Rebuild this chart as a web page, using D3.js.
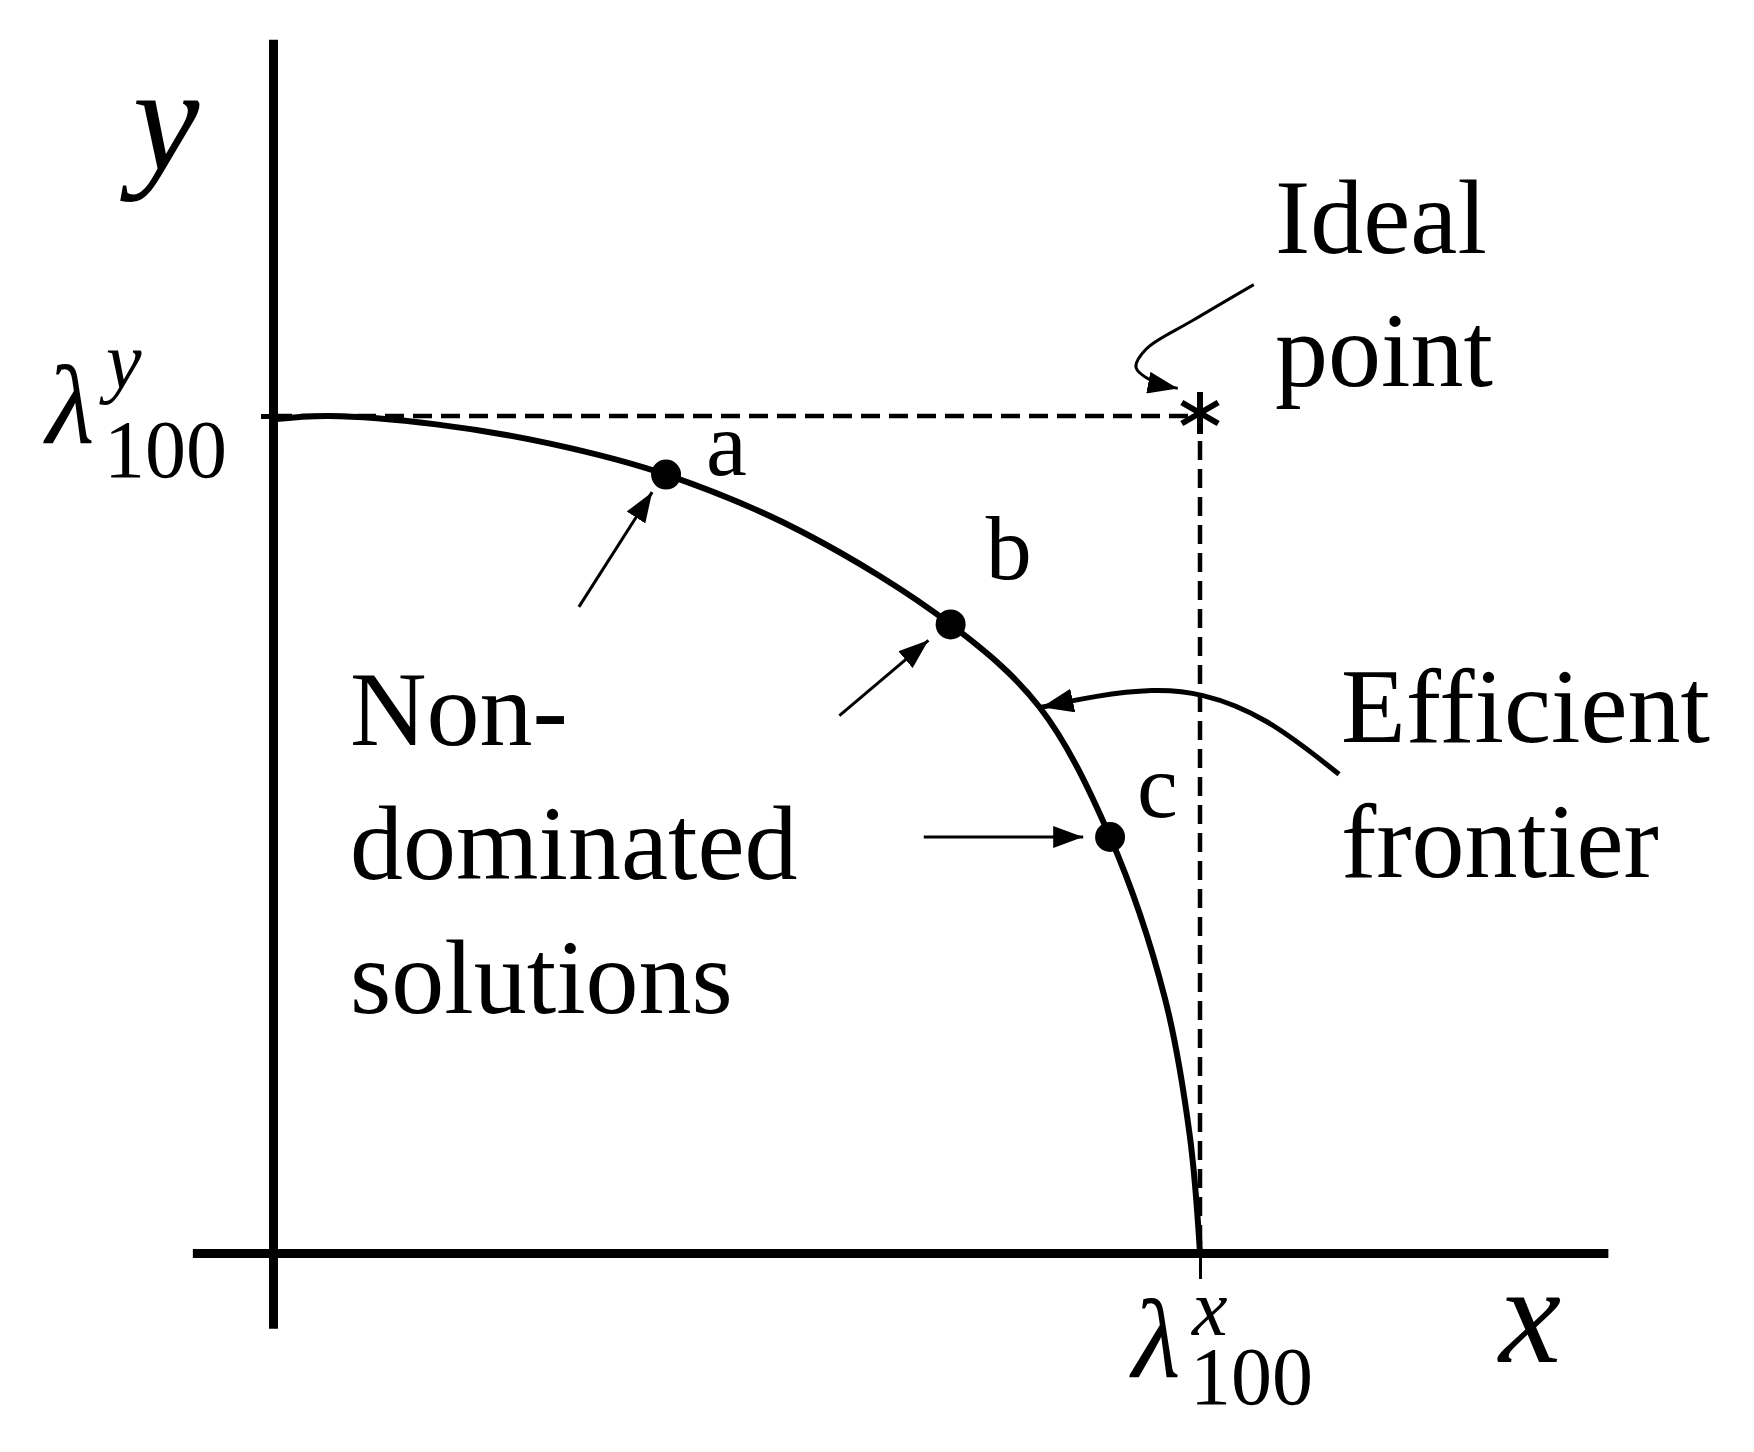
<!DOCTYPE html>
<html>
<head>
<meta charset="utf-8">
<script src="https://cdn.jsdelivr.net/npm/d3@7"></script>
<style>
  html, body { margin: 0; padding: 0; background: #fff; }
  svg { display: block; }
  text { font-family: "Liberation Serif", "DejaVu Serif", serif; fill: #000; }
  .math { font-style: italic; }
</style>
</head>
<body>
<svg id="chart" width="1754" height="1452"></svg>
<script>
// ── data (x, y in units of the λ100 values) ────────────────────────────────
const frontierX = [0, 6, 17.6, 29.9, 42.4, 57, 73.1, 82.7, 90.3, 96.2, 98.9, 100];
const frontierY = [99.6, 100, 99.0, 96.7, 93.0, 86.2, 75.1, 65.2, 49.7, 30.5, 14, 0];

const solutionNames = ['a', 'b', 'c'];
const solutionX = [42.4, 73.1, 90.3];
const solutionY = [93.0, 75.1, 49.7];

const idealPoint = [100, 100];
const xAxisExtent = [-8.7, 144];
const yAxisExtent = [-9, 145];
const tickValues = [100];

// arrows pointing at the solutions: [tailX, tailY, tipX, tipY]
const solutionArrows = [
  [33.0, 77.2, 40.9, 90.9],
  [61.1, 64.2, 70.7, 73.2],
  [70.2, 49.7, 87.4, 49.7],
];
// curved callouts
const frontierArrowX = [115.0, 107, 100, 95, 88.8, 82.9];
const frontierArrowY = [57.2, 64.2, 67.0, 67.4, 66.6, 65.2];
const idealArrowX = [105.8, 99.2, 94.2, 93.1, 94.8, 97.6];
const idealArrowY = [115.7, 111.4, 108.0, 105.8, 104.2, 103.3];

const nonDomLines = ['Non-', 'dominated', 'solutions'];
const frontierLines = ['Efficient', 'frontier'];
const idealLines = ['Ideal', 'point'];

// ── scales ─────────────────────────────────────────────────────────────────
const x = d3.scaleLinear().domain([0, 100]).range([273, 1200]);
const y = d3.scaleLinear().domain([0, 100]).range([1253, 416]);

const svg = d3.select('#chart');

const defs = svg.append('defs');
function addMarker(id, len, wid) {
  defs.append('marker').attr('id', id)
    .attr('markerUnits', 'userSpaceOnUse')
    .attr('viewBox', `0 0 ${len} ${wid}`)
    .attr('markerWidth', len).attr('markerHeight', wid)
    .attr('refX', len).attr('refY', wid / 2)
    .attr('orient', 'auto')
    .append('path').attr('d', `M0,0L${len},${wid / 2}L0,${wid}Z`).attr('fill', '#000');
}
addMarker('head', 30, 22);
addMarker('headBig', 32, 24);

// ── axes ───────────────────────────────────────────────────────────────────
const xAxisScale = d3.scaleLinear().domain(xAxisExtent).range(xAxisExtent.map(x));
const yAxisScale = d3.scaleLinear().domain(yAxisExtent).range(yAxisExtent.map(y));

const gx = svg.append('g').attr('transform', `translate(0,${y(0)})`)
  .call(d3.axisBottom(xAxisScale).tickValues(tickValues).tickSize(26).tickSizeOuter(0).tickFormat(''));
gx.select('.domain').attr('stroke', '#000').attr('stroke-width', 9);
gx.selectAll('.tick line').attr('stroke', '#000').attr('stroke-width', 3);

const gy = svg.append('g').attr('transform', `translate(${x(0)},0)`)
  .call(d3.axisLeft(yAxisScale).tickValues(tickValues).tickSize(12).tickSizeOuter(0).tickFormat(''));
gy.select('.domain').attr('stroke', '#000').attr('stroke-width', 9);
gy.selectAll('.tick line').attr('stroke', '#000').attr('stroke-width', 5);

// ── dashed ideal lines ─────────────────────────────────────────────────────
svg.append('path')
  .attr('d', d3.line()([[x(0), y(idealPoint[1])], [x(idealPoint[0]), y(idealPoint[1])], [x(idealPoint[0]), y(0)]]))
  .attr('fill', 'none').attr('stroke', '#000').attr('stroke-width', 4.5)
  .attr('stroke-dasharray', '19 9');

// ── frontier ───────────────────────────────────────────────────────────────
const frontier = frontierX.map((d, i) => [d, frontierY[i]]);
svg.append('path').datum(frontier)
  .attr('d', d3.line().x(d => x(d[0])).y(d => y(d[1])).curve(d3.curveCatmullRom.alpha(0.5)))
  .attr('fill', 'none').attr('stroke', '#000').attr('stroke-width', 6);

// solutions
svg.selectAll('.sol').data(solutionNames).join('circle')
  .attr('class', 'sol')
  .attr('cx', (d, i) => x(solutionX[i])).attr('cy', (d, i) => y(solutionY[i]))
  .attr('r', 15).attr('fill', '#000');

const labelOffset = { a: [40, 0], b: [35, -45], c: [27, -20] };
svg.selectAll('.sol-label').data(solutionNames).join('text')
  .attr('class', 'sol-label')
  .attr('x', (d, i) => x(solutionX[i]) + labelOffset[d][0])
  .attr('y', (d, i) => y(solutionY[i]) + labelOffset[d][1])
  .attr('font-size', 92)
  .text(d => d);

// ideal point
const asterisk = d3.symbol(d3.symbolAsterisk || d3.symbolCross, 1250)();
svg.append('path').attr('d', asterisk)
  .attr('transform', `translate(${x(idealPoint[0])},${y(idealPoint[1]) - 3})`)
  .attr('fill', 'none').attr('stroke', '#000').attr('stroke-width', 6);

// ── arrows ─────────────────────────────────────────────────────────────────
svg.selectAll('.sol-arrow').data(solutionArrows).join('line')
  .attr('class', 'sol-arrow')
  .attr('x1', d => x(d[0])).attr('y1', d => y(d[1]))
  .attr('x2', d => x(d[2])).attr('y2', d => y(d[3]))
  .attr('stroke', '#000').attr('stroke-width', 3)
  .attr('marker-end', 'url(#head)');

svg.append('path').datum(frontierArrowX.map((d, i) => [d, frontierArrowY[i]]))
  .attr('d', d3.line().x(d => x(d[0])).y(d => y(d[1])).curve(d3.curveBasis))
  .attr('fill', 'none').attr('stroke', '#000').attr('stroke-width', 5)
  .attr('marker-end', 'url(#headBig)');

svg.append('path').datum(idealArrowX.map((d, i) => [d, idealArrowY[i]]))
  .attr('d', d3.line().x(d => x(d[0])).y(d => y(d[1])).curve(d3.curveCatmullRom.alpha(0.5)))
  .attr('fill', 'none').attr('stroke', '#000').attr('stroke-width', 3)
  .attr('marker-end', 'url(#head)');

// ── text blocks ────────────────────────────────────────────────────────────
function block(lines, x0, y0, lh) {
  svg.append('g').selectAll('text').data(lines).join('text')
    .attr('x', x0).attr('y', (d, i) => y0 + i * lh)
    .attr('font-size', 106)
    .text(d => d);
}
block(idealLines, 1275, 253, 133);
block(nonDomLines, 350, 745, 134);
block(frontierLines, 1341, 742, 135);

// ── axis labels ────────────────────────────────────────────────────────────
svg.append('text').attr('class', 'math').attr('x', 166).attr('y', 170)
  .attr('text-anchor', 'middle').attr('font-size', 150).text('y');
svg.append('text').attr('class', 'math').attr('x', 1530).attr('y', 1362)
  .attr('text-anchor', 'middle').attr('font-size', 140).text('x');

// λ with superscript and subscript, as one text
function lambda(x0, baseL, sup, supDy, subDy) {
  const t = svg.append('text').attr('x', x0).attr('y', baseL);
  t.append('tspan').attr('class', 'math').attr('font-size', 112).text('λ');
  t.append('tspan').attr('class', 'math').attr('font-size', 80)
    .attr('x', x0 + 60).attr('dy', supDy).text(sup);
  t.append('tspan').attr('font-size', 82)
    .attr('x', x0 + 58).attr('dy', subDy - supDy).text('100');
}
lambda(46, 443, 'y', -55, 34);
lambda(1132, 1377, 'x', -42, 27);
</script>
</body>
</html>
